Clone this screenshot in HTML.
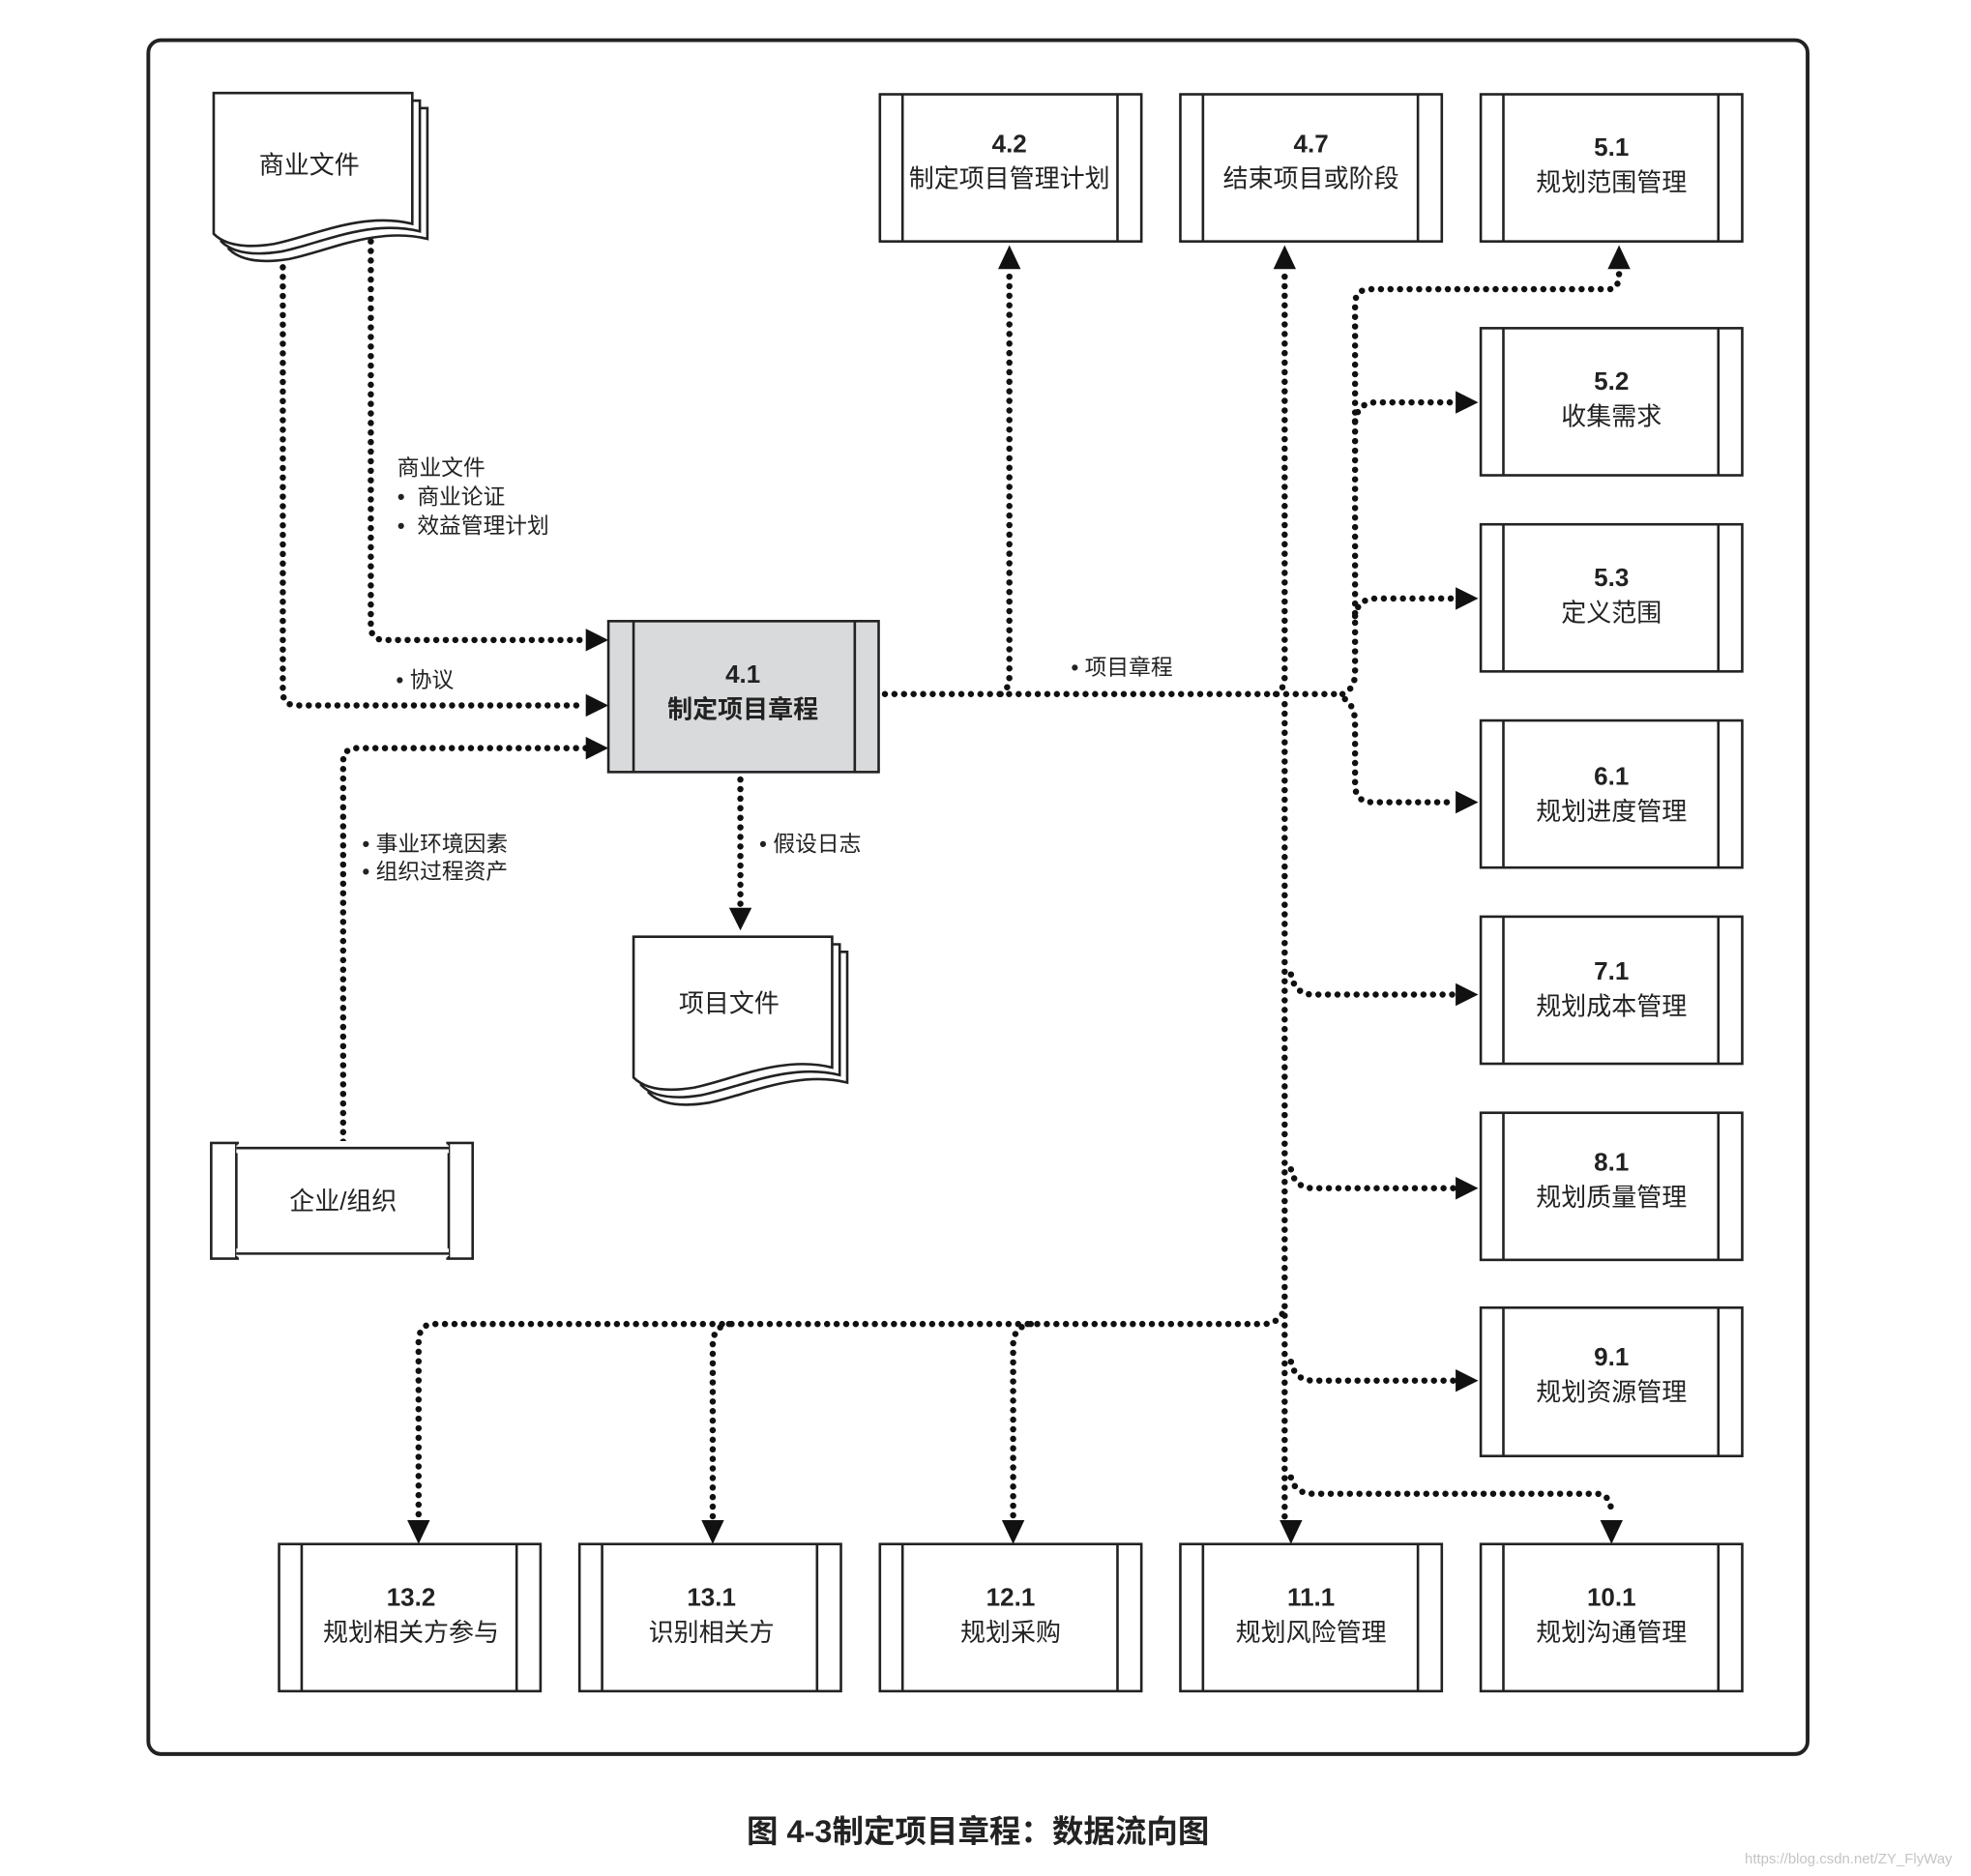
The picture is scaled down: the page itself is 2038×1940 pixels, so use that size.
<!DOCTYPE html>
<html><head><meta charset="utf-8"><style>
html,body{margin:0;padding:0;background:#fff;}
svg{display:block;}
text{font-family:"Liberation Sans","Noto Sans CJK SC",sans-serif;fill:#222;}
.d{fill:none;stroke:#111;stroke-width:5;stroke-linecap:round;stroke-dasharray:0 7.6;}
.b{fill:#fff;stroke:#222;stroke-width:2;}
.l{stroke:#222;stroke-width:2;}
.n{font-weight:bold;}
</style></head><body>
<svg width="2038" height="1940" viewBox="0 0 1568 1492" preserveAspectRatio="none" xmlns="http://www.w3.org/2000/svg">
<rect x="118" y="32" width="1320" height="1363" rx="10" fill="none" stroke="#222" stroke-width="3"/>

<path class="d" d="M295 192 V498 Q295 509 306 509 H466"/>
<path class="d" d="M225 205 V550 Q225 561 236 561 H466"/>
<path class="d" d="M273 908 V606 Q273 595 284 595 H466"/>
<path class="d" d="M589 620 V722"/>
<path class="d" d="M704 552 H1068"/>
<path class="d" d="M796 552 Q803 548 803 538 V214"/>
<path class="d" d="M1015 552 Q1022 548 1022 538 V214"/>
<path class="d" d="M1022 560 V1210"/>
<path class="d" d="M1068 552 Q1078 548 1078 535 V242 Q1078 230 1090 230 H1280 Q1288 230 1288 218"/>
<path class="d" d="M1078 335 Q1080 320 1095 320 H1158"/>
<path class="d" d="M1078 490 Q1080 476 1095 476 H1158"/>
<path class="d" d="M1070 556 Q1078 562 1078 575 V624 Q1078 638 1092 638 H1158"/>
<path class="d" d="M1027 775 Q1030 791 1045 791 H1158"/>
<path class="d" d="M1027 930 Q1030 945 1045 945 H1158"/>
<path class="d" d="M1027 1083 Q1030 1098 1045 1098 H1158"/>
<path class="d" d="M1027 1175 Q1030 1188 1045 1188 H1270 Q1282 1188 1282 1205"/>
<path class="d" d="M1020 1045 Q1015 1053 1005 1053 H345 Q333 1053 333 1068 V1208"/>
<path class="d" d="M580 1053 Q567 1055 567 1070 V1208"/>
<path class="d" d="M820 1053 Q806 1055 806 1070 V1208"/>

<g fill="#111">
<polygon points="484,509 466,500 466,518"/>
<polygon points="484,561 466,552 466,570"/>
<polygon points="484,595 466,586 466,604"/>
<polygon points="589,740 580,722 598,722"/>
<polygon points="803,195 794,214 812,214"/>
<polygon points="1022,195 1013,214 1031,214"/>
<polygon points="1288,195 1279,214 1297,214"/>
<polygon points="1176,320 1158,311 1158,329"/>
<polygon points="1176,476 1158,467 1158,485"/>
<polygon points="1176,638 1158,629 1158,647"/>
<polygon points="1176,791 1158,782 1158,800"/>
<polygon points="1176,945 1158,936 1158,954"/>
<polygon points="1176,1098 1158,1089 1158,1107"/>
<polygon points="333,1228 324,1209 342,1209"/>
<polygon points="567,1228 558,1209 576,1209"/>
<polygon points="806,1228 797,1209 815,1209"/>
<polygon points="1027,1228 1018,1209 1036,1209"/>
<polygon points="1282,1228 1273,1209 1291,1209"/>
</g>

<g>
<path class="b" d="M182 86 H340 V190 C300 180 260 200 230 206 C205 210 190 206 182 198 Z"/>
<path class="b" d="M176 80 H334 V184 C294 174 254 194 224 200 C199 204 184 200 176 192 Z"/>
<path class="b" d="M170 74 H328 V178 C288 168 248 188 218 194 C193 198 178 194 170 186 Z"/>
<text x="246" y="138" font-size="20" text-anchor="middle">商业文件</text>
</g>
<g>
<path class="b" d="M516 757 H674 V861 C634 851 594 871 564 877 C539 881 524 877 516 869 Z"/>
<path class="b" d="M510 751 H668 V855 C628 845 588 865 558 871 C533 875 518 871 510 863 Z"/>
<path class="b" d="M504 745 H662 V849 C622 839 582 859 552 865 C527 869 512 865 504 857 Z"/>
<text x="580" y="805" font-size="20" text-anchor="middle">项目文件</text>
</g>

<rect x="484" y="494" width="215" height="120" fill="#d9dadc" stroke="#222" stroke-width="2"/>
<line class="l" x1="504" y1="494" x2="504" y2="614"/><line class="l" x1="680" y1="494" x2="680" y2="614"/>
<text x="591" y="543" font-size="20" font-weight="bold" text-anchor="middle">4.1</text>
<text x="591" y="571" font-size="20" font-weight="bold" text-anchor="middle">制定项目章程</text>

<rect class="b" x="168" y="909" width="208" height="92"/>
<line class="l" x1="188" y1="909" x2="188" y2="1001"/><line class="l" x1="357" y1="909" x2="357" y2="1001"/>
<line x1="188" y1="914" x2="357" y2="914" stroke="#fff" stroke-width="6"/>
<line x1="188" y1="996" x2="357" y2="996" stroke="#fff" stroke-width="6"/>
<line class="l" x1="188" y1="913" x2="357" y2="913"/><line class="l" x1="188" y1="997" x2="357" y2="997"/>
<line x1="190" y1="909" x2="355" y2="909" stroke="#fff" stroke-width="3"/>
<line x1="190" y1="1001" x2="355" y2="1001" stroke="#fff" stroke-width="3"/>
<text x="273" y="962" font-size="20" text-anchor="middle">企业/组织</text>

<g font-size="20" text-anchor="middle">
<rect class="b" x="700" y="75" width="208" height="117"/><line class="l" x1="718" y1="75" x2="718" y2="192"/><line class="l" x1="889" y1="75" x2="889" y2="192"/>
<text class="n" x="803" y="121">4.2</text><text x="803" y="149">制定项目管理计划</text>
<rect class="b" x="939" y="75" width="208" height="117"/><line class="l" x1="957" y1="75" x2="957" y2="192"/><line class="l" x1="1128" y1="75" x2="1128" y2="192"/>
<text class="n" x="1043" y="121">4.7</text><text x="1043" y="149">结束项目或阶段</text>
<rect class="b" x="1178" y="75" width="208" height="117"/><line class="l" x1="1196" y1="75" x2="1196" y2="192"/><line class="l" x1="1367" y1="75" x2="1367" y2="192"/>
<text class="n" x="1282" y="124">5.1</text><text x="1282" y="152">规划范围管理</text>

<rect class="b" x="1178" y="261" width="208" height="117"/><line class="l" x1="1196" y1="261" x2="1196" y2="378"/><line class="l" x1="1367" y1="261" x2="1367" y2="378"/>
<text class="n" x="1282" y="310">5.2</text><text x="1282" y="338">收集需求</text>
<rect class="b" x="1178" y="417" width="208" height="117"/><line class="l" x1="1196" y1="417" x2="1196" y2="534"/><line class="l" x1="1367" y1="417" x2="1367" y2="534"/>
<text class="n" x="1282" y="466">5.3</text><text x="1282" y="494">定义范围</text>
<rect class="b" x="1178" y="573" width="208" height="117"/><line class="l" x1="1196" y1="573" x2="1196" y2="690"/><line class="l" x1="1367" y1="573" x2="1367" y2="690"/>
<text class="n" x="1282" y="624">6.1</text><text x="1282" y="652">规划进度管理</text>
<rect class="b" x="1178" y="729" width="208" height="117"/><line class="l" x1="1196" y1="729" x2="1196" y2="846"/><line class="l" x1="1367" y1="729" x2="1367" y2="846"/>
<text class="n" x="1282" y="779">7.1</text><text x="1282" y="807">规划成本管理</text>
<rect class="b" x="1178" y="885" width="208" height="117"/><line class="l" x1="1196" y1="885" x2="1196" y2="1002"/><line class="l" x1="1367" y1="885" x2="1367" y2="1002"/>
<text class="n" x="1282" y="931">8.1</text><text x="1282" y="959">规划质量管理</text>
<rect class="b" x="1178" y="1040" width="208" height="118"/><line class="l" x1="1196" y1="1040" x2="1196" y2="1158"/><line class="l" x1="1367" y1="1040" x2="1367" y2="1158"/>
<text class="n" x="1282" y="1086">9.1</text><text x="1282" y="1114">规划资源管理</text>

<rect class="b" x="222" y="1228" width="208" height="117"/><line class="l" x1="240" y1="1228" x2="240" y2="1345"/><line class="l" x1="411" y1="1228" x2="411" y2="1345"/>
<text class="n" x="327" y="1277">13.2</text><text x="327" y="1305">规划相关方参与</text>
<rect class="b" x="461" y="1228" width="208" height="117"/><line class="l" x1="479" y1="1228" x2="479" y2="1345"/><line class="l" x1="650" y1="1228" x2="650" y2="1345"/>
<text class="n" x="566" y="1277">13.1</text><text x="566" y="1305">识别相关方</text>
<rect class="b" x="700" y="1228" width="208" height="117"/><line class="l" x1="718" y1="1228" x2="718" y2="1345"/><line class="l" x1="889" y1="1228" x2="889" y2="1345"/>
<text class="n" x="804" y="1277">12.1</text><text x="804" y="1305">规划采购</text>
<rect class="b" x="939" y="1228" width="208" height="117"/><line class="l" x1="957" y1="1228" x2="957" y2="1345"/><line class="l" x1="1128" y1="1228" x2="1128" y2="1345"/>
<text class="n" x="1043" y="1277">11.1</text><text x="1043" y="1305">规划风险管理</text>
<rect class="b" x="1178" y="1228" width="208" height="117"/><line class="l" x1="1196" y1="1228" x2="1196" y2="1345"/><line class="l" x1="1367" y1="1228" x2="1367" y2="1345"/>
<text class="n" x="1282" y="1277">10.1</text><text x="1282" y="1305">规划沟通管理</text>
</g>

<g font-size="17.5">
<text x="316" y="378">商业文件</text>
<text x="316" y="401">•&#160;&#160;商业论证</text>
<text x="316" y="424">•&#160;&#160;效益管理计划</text>
<text x="315" y="547">• 协议</text>
<text x="288" y="677">• 事业环境因素</text>
<text x="288" y="699">• 组织过程资产</text>
<text x="604" y="677">• 假设日志</text>
<text x="852" y="537">• 项目章程</text>
</g>
<text x="778" y="1465" font-size="25" font-weight="bold" text-anchor="middle">图 4-3制定项目章程：数据流向图</text>
<text x="1388" y="1482" font-size="11.5" style="fill:#c4c4c4">https://blog.csdn.net/ZY_FlyWay</text>
</svg>
</body></html>
